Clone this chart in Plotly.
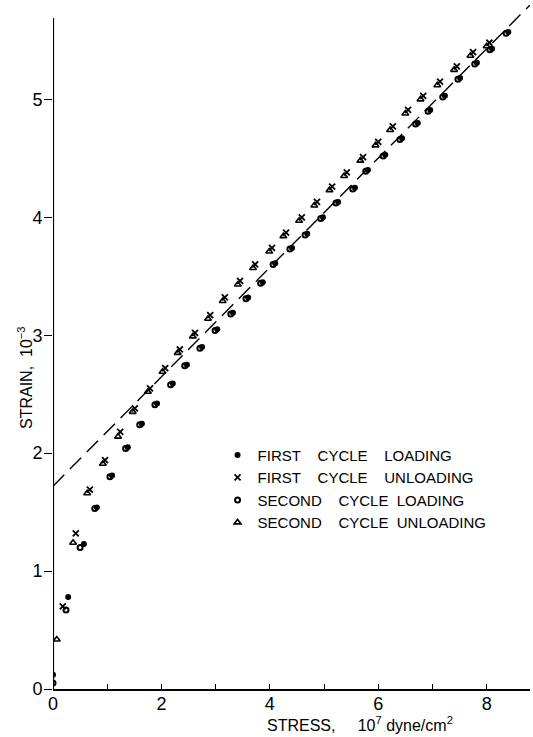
import plotly.graph_objects as go

# ---- data (stress in 1e7 dyne/cm^2, strain in 1e-3) ----
first_load_stress = [0.0, 0.28, 0.57, 0.81, 1.09, 1.38, 1.64, 1.92, 2.21, 2.47, 2.75, 3.03, 3.32, 3.60,
                     3.87, 4.10, 4.41, 4.69, 4.98, 5.26, 5.57, 5.81, 6.13, 6.44, 6.73, 6.96, 7.23, 7.51,
                     7.82, 8.10, 8.40]
first_load_strain = [0.12, 0.78, 1.23, 1.54, 1.81, 2.05, 2.25, 2.42, 2.59, 2.75, 2.90, 3.05, 3.19, 3.32,
                     3.45, 3.61, 3.74, 3.86, 4.00, 4.13, 4.25, 4.40, 4.53, 4.67, 4.80, 4.91, 5.03, 5.18,
                     5.31, 5.43, 5.57]

first_unload_stress = [0.18, 0.42, 0.68, 0.96, 1.24, 1.51, 1.79, 2.07, 2.34, 2.62, 2.90, 3.17, 3.45, 3.73,
                       4.04, 4.30, 4.59, 4.87, 5.15, 5.42, 5.72, 6.00, 6.27, 6.55, 6.83, 7.14, 7.45, 7.75,
                       8.05]
first_unload_strain = [0.70, 1.32, 1.69, 1.94, 2.18, 2.38, 2.55, 2.72, 2.88, 3.02, 3.17, 3.32, 3.46, 3.60,
                       3.74, 3.87, 4.00, 4.13, 4.26, 4.38, 4.51, 4.64, 4.77, 4.91, 5.03, 5.15, 5.28, 5.40,
                       5.48]

second_load_stress = [0.0, 0.24, 0.50, 0.77, 1.05, 1.34, 1.60, 1.88, 2.17, 2.43, 2.71, 2.99, 3.28, 3.56,
                      3.83, 4.06, 4.37, 4.65, 4.94, 5.22, 5.53, 5.77, 6.09, 6.40, 6.69, 6.92, 7.19, 7.47,
                      7.78, 8.06, 8.36]
second_load_strain = [0.05, 0.67, 1.20, 1.53, 1.80, 2.04, 2.24, 2.41, 2.58, 2.74, 2.89, 3.04, 3.18, 3.31,
                      3.44, 3.60, 3.73, 3.85, 3.99, 4.12, 4.24, 4.39, 4.52, 4.66, 4.79, 4.90, 5.02, 5.17,
                      5.30, 5.42, 5.56]

second_unload_stress = [0.07, 0.37, 0.63, 0.92, 1.20, 1.47, 1.75, 2.02, 2.30, 2.58, 2.86, 3.13, 3.41, 3.69,
                        3.99, 4.25, 4.54, 4.82, 5.10, 5.37, 5.67, 5.95, 6.22, 6.50, 6.78, 7.09, 7.40, 7.70,
                        8.00]
second_unload_strain = [0.42, 1.24, 1.66, 1.91, 2.14, 2.35, 2.52, 2.69, 2.85, 2.99, 3.14, 3.29, 3.43, 3.57,
                        3.71, 3.84, 3.97, 4.10, 4.23, 4.35, 4.48, 4.61, 4.74, 4.88, 5.00, 5.12, 5.25, 5.37,
                        5.45]

fit_stress = [0.0, 8.8]
fit_strain = [1.72, 5.80]

x_ticks = [0, 2, 4, 6, 8]
x_tick_labels = ["0", "2", "4", "6", "8"]
y_ticks = [0, 1, 2, 3, 4, 5]
y_tick_labels = ["0", "1", "2", "3", "4", "5"]

NB = "\u00a0"

fig = go.Figure()

fig.add_trace(go.Scatter(x=fit_stress, y=fit_strain, mode="lines",
                         line=dict(color="black", width=1.4, dash="16px,8px"),
                         showlegend=False, hoverinfo="skip"))

fig.add_trace(go.Scatter(x=first_load_stress, y=first_load_strain, mode="markers",
                         name=f"FIRST{NB*4}CYCLE{NB*4}LOADING",
                         marker=dict(symbol="circle", size=6, color="black")))
fig.add_trace(go.Scatter(x=first_unload_stress, y=first_unload_strain, mode="markers",
                         name=f"FIRST{NB*4}CYCLE{NB*4}UNLOADING",
                         marker=dict(symbol="x-thin", size=6, color="black",
                                     line=dict(color="black", width=1.8))))
fig.add_trace(go.Scatter(x=second_load_stress, y=second_load_strain, mode="markers",
                         name=f"SECOND{NB*4}CYCLE{NB*2}LOADING",
                         marker=dict(symbol="circle-open", size=5, color="black",
                                     line=dict(color="black", width=2))))
fig.add_trace(go.Scatter(x=second_unload_stress, y=second_unload_strain, mode="markers",
                         name=f"SECOND{NB*4}CYCLE{NB*2}UNLOADING",
                         marker=dict(symbol="triangle-up-open", size=6, color="black",
                                     line=dict(color="black", width=1.6))))

# y-axis line (drawn so the plot area can extend above it)
fig.add_shape(type="line", x0=0, x1=0, y0=0, y1=5.69, xref="x", yref="y",
              line=dict(color="black", width=2.2))

fig.add_annotation(text=f"STRESS,{NB*5}10<sup>7</sup> dyne/cm<sup>2</sup>",
                   xref="paper", yref="paper", x=(360 - 53) / 477, y=-(724 - 689) / 684,
                   xanchor="center", yanchor="middle", showarrow=False,
                   font=dict(size=16, color="black"))
fig.add_annotation(text="STRAIN,  10<sup>−3</sup>", textangle=-90,
                   xref="paper", yref="paper", x=(25 - 53) / 477, y=(689 - 378) / 684,
                   xanchor="center", yanchor="middle", showarrow=False,
                   font=dict(size=16, color="black"))

fig.update_layout(
    width=533, height=737,
    margin=dict(l=53, r=3, t=5, b=48),
    paper_bgcolor="white", plot_bgcolor="white",
    font=dict(family="Liberation Sans, Arial, sans-serif", color="black"),
    xaxis=dict(range=[0, 8.8], tickvals=x_ticks, ticktext=x_tick_labels,
               ticks="inside", ticklen=5, tickwidth=1.2, tickcolor="black",
               minor=dict(dtick=1, tick0=0, ticks="inside", ticklen=5, tickwidth=1.2,
                          tickcolor="black", showgrid=False),
               showline=True, linecolor="black", linewidth=2, showgrid=False, zeroline=False,
               tickfont=dict(size=18), ticklabelstandoff=-3),
    yaxis=dict(range=[0, 5.8], tickvals=y_ticks, ticktext=y_tick_labels,
               ticks="outside", ticklen=8, tickwidth=1.2, tickcolor="black",
               showline=False, showgrid=False, zeroline=False,
               tickfont=dict(size=18), ticklabelstandoff=-2),
    legend=dict(x=0.345, y=0.366, xanchor="left", yanchor="top",
                bgcolor="rgba(0,0,0,0)", font=dict(size=15),
                tracegroupgap=0),
)

fig.write_html("out.html")
